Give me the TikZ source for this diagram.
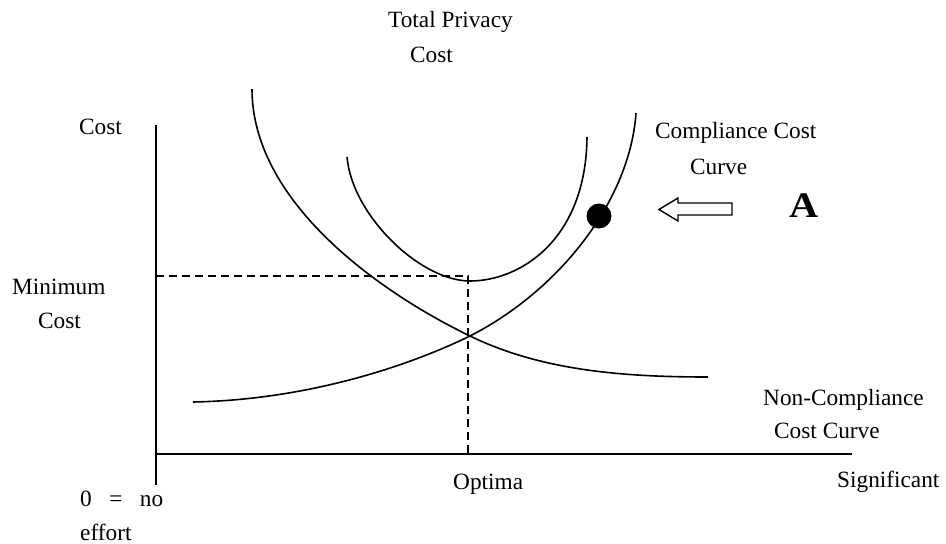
\documentclass[tikz,border=0pt]{standalone}
\usepackage{fontspec}
\setmainfont{Liberation Serif}
\begin{document}
\begin{tikzpicture}[x=1pt,y=-1pt,
  lbl/.style={anchor=base west,inner sep=0pt,font=\fontsize{23.3}{28}\selectfont},
  axisline/.style={line width=1.9pt},
  curve/.style={line width=1.6pt},
  guide/.style={line width=1.4pt,dash pattern=on 8pt off 5pt}]
\useasboundingbox[fill=white] (0,0) rectangle (946,544);
% axes
\coordinate (ytop) at (156,125);
\coordinate (ybot) at (156,485);
\coordinate (orig) at (156,454);
\coordinate (xend) at (852,454);
\draw[axisline] (ytop) -- (ybot);
\draw[axisline] (orig) -- (xend);
% dashed guides
\coordinate (mcL) at (156,276);
\coordinate (mcR) at (468,276);
\coordinate (opt) at (468,454);
\draw[guide] (mcL) -- (mcR) -- (opt);
% non-compliance curve
\coordinate (nc0) at (252,89);
\coordinate (X) at (470,336);
\coordinate (nc1) at (708,377);
\draw[curve] (nc0) .. controls (252,200) and (375,290) .. (X)
  .. controls (540,370) and (620,377) .. (nc1);
% compliance curve
\coordinate (cc0) at (193,402);
\coordinate (cc1) at (636,113);
\draw[curve] (cc0) .. controls (300,400) and (400,370) .. (X)
  .. controls (560,290) and (630,200) .. (cc1);
% total privacy cost curve
\coordinate (tp0) at (347,157);
\coordinate (tpm) at (470,281);
\coordinate (tp1) at (587,137);
\draw[curve] (tp0) .. controls (352,215) and (420,281) .. (tpm)
  .. controls (520,281) and (586,240) .. (tp1);
% point A
\node[circle,fill=black,inner sep=0pt,minimum size=25pt] (dot) at (599,216) {};
% hollow arrow
\draw[line width=1.4pt,line join=miter] (732,203) -- (678,203) -- (678,198) -- (659,209.5)
  -- (678,221) -- (678,215) -- (732,215) -- cycle;
\node[anchor=base west,inner sep=0pt,font=\fontsize{36}{42}\selectfont\bfseries,xscale=1.12] (A) at (789,217) {A};
% labels
\node[lbl] (tpc1) at (388,27) {Total Privacy};
\node[lbl] (tpc2) at (410,62) {Cost};
\node[lbl] (ycost) at (79,134) {Cost};
\node[lbl] (min1) at (12,294) {Minimum};
\node[lbl] (min2) at (38,328) {Cost};
\node[lbl] (cc1a) at (655,138) {Compliance Cost};
\node[lbl] (cc1b) at (690,174) {Curve};
\node[lbl] (nca) at (763,405) {Non-Compliance};
\node[lbl] (ncb) at (774,438) {Cost Curve};
\node[lbl] (optl) at (453,489) {Optima};
\node[lbl] (sig) at (837,487) {Significant};
\node[lbl] (zero) at (80,506) {0\hspace{0.75em}=\hspace{0.75em}no};
\node[lbl] (eff) at (80,540) {effort};
\end{tikzpicture}
\end{document}
